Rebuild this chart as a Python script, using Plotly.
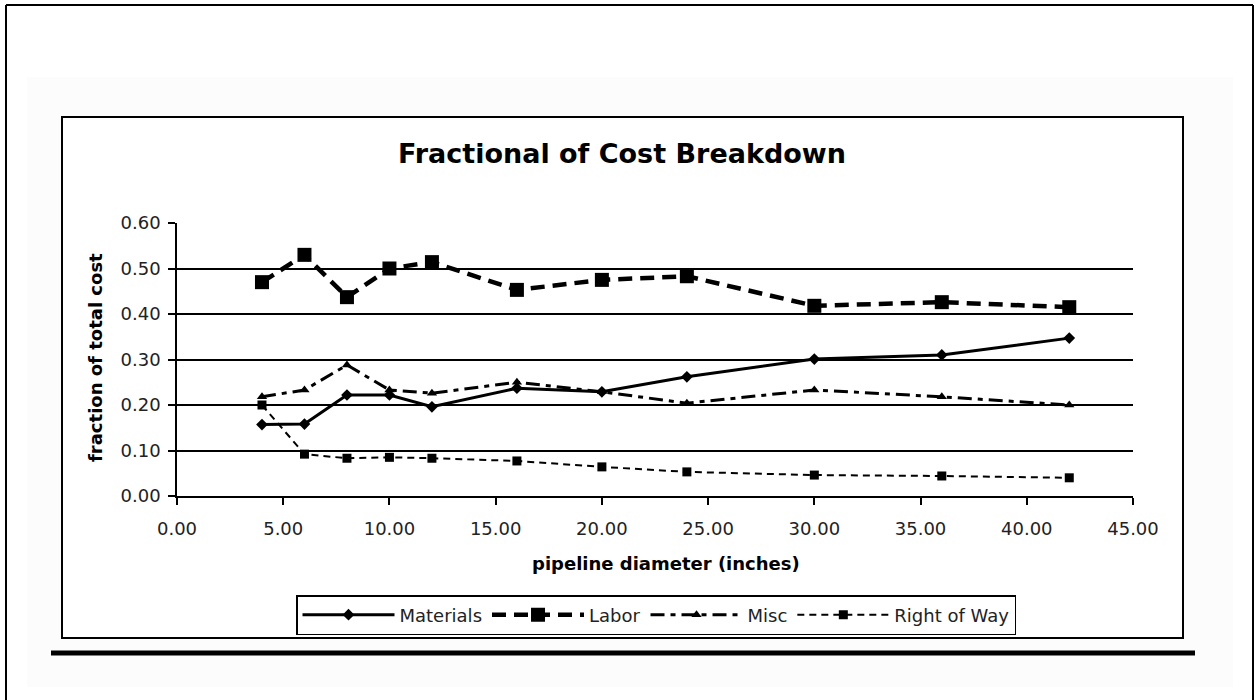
import plotly.graph_objects as go

# ---- data ----
diameters = [4, 6, 8, 10, 12, 16, 20, 24, 30, 36, 42]
materials = [0.157, 0.158, 0.222, 0.222, 0.196, 0.237, 0.229, 0.262, 0.301, 0.310, 0.347]
labor = [0.470, 0.530, 0.437, 0.500, 0.514, 0.453, 0.475, 0.483, 0.418, 0.426, 0.415]
misc = [0.218, 0.233, 0.288, 0.233, 0.226, 0.250, 0.229, 0.204, 0.233, 0.218, 0.200]
right_of_way = [0.200, 0.092, 0.083, 0.085, 0.083, 0.077, 0.064, 0.053, 0.046, 0.044, 0.040]

x_ticks = [0, 5, 10, 15, 20, 25, 30, 35, 40, 45]
y_ticks = [0.0, 0.1, 0.2, 0.3, 0.4, 0.5, 0.6]

title_text = "Fractional of Cost Breakdown"
x_title = "pipeline diameter (inches)"
y_title = "fraction of total cost"

# ---- layout geometry (pixels) ----
W, H = 1255, 700
PL, PR, PT, PB = 177, 1133, 223, 496


def fx(px):
    return (px - PL) / (PR - PL)


def fy(py):
    return (PB - py) / (PB - PT)


FONT = "DejaVu Sans"

fig = go.Figure()
fig.add_trace(go.Scatter(
    x=diameters, y=materials, name="Materials", mode="lines+markers",
    line=dict(color="black", width=3, dash="solid"),
    marker=dict(symbol="diamond", size=9, color="black")))
fig.add_trace(go.Scatter(
    x=diameters, y=labor, name="Labor", mode="lines+markers",
    line=dict(color="black", width=4.5, dash="14px,8px"),
    marker=dict(symbol="square", size=14, color="black")))
fig.add_trace(go.Scatter(
    x=diameters, y=misc, name="Misc", mode="lines+markers",
    line=dict(color="black", width=3, dash="14px,6px,5px,6px"),
    marker=dict(symbol="triangle-up", size=9, color="black")))
fig.add_trace(go.Scatter(
    x=diameters, y=right_of_way, name="Right of Way", mode="lines+markers",
    line=dict(color="black", width=2, dash="7px,5px"),
    marker=dict(symbol="square", size=9, color="black")))

shapes = [
    # faint background panel
    dict(type="rect", xref="paper", yref="paper", x0=fx(27), x1=fx(1233), y0=fy(687), y1=fy(77),
         fillcolor="#fcfcfc", line=dict(width=0), layer="below"),
    # outer frame (left, top, right)
    dict(type="line", xref="paper", yref="paper", x0=fx(6), x1=fx(6), y0=fy(5), y1=fy(702),
         line=dict(color="black", width=2)),
    dict(type="line", xref="paper", yref="paper", x0=fx(6), x1=fx(1253), y0=fy(5), y1=fy(5),
         line=dict(color="black", width=2)),
    dict(type="line", xref="paper", yref="paper", x0=fx(1253), x1=fx(1253), y0=fy(5), y1=fy(702),
         line=dict(color="black", width=2)),
    # chart frame
    dict(type="rect", xref="paper", yref="paper", x0=fx(62), x1=fx(1183), y0=fy(638), y1=fy(117),
         line=dict(color="black", width=2), fillcolor="white", layer="below"),
    # thick rule below
    dict(type="line", xref="paper", yref="paper", x0=fx(51), x1=fx(1195), y0=fy(653), y1=fy(653),
         line=dict(color="black", width=5)),
]

annotations = [
    dict(text="<b>" + title_text + "</b>", xref="paper", yref="paper", x=fx(622), y=fy(153),
         showarrow=False, xanchor="center", yanchor="middle",
         font=dict(family=FONT, size=27, color="black")),
    dict(text="<b>" + x_title + "</b>", xref="paper", yref="paper", x=fx(666), y=fy(563),
         showarrow=False, xanchor="center", yanchor="middle",
         font=dict(family=FONT, size=18, color="black")),
    dict(text="<b>" + y_title + "</b>", xref="paper", yref="paper", x=fx(95), y=fy(358),
         showarrow=False, xanchor="center", yanchor="middle", textangle=-90,
         font=dict(family=FONT, size=18, color="black")),
]

fig.update_layout(
    width=W, height=H,
    margin=dict(l=PL, r=W - PR, t=PT, b=H - PB, pad=0),
    paper_bgcolor="white", plot_bgcolor="rgba(0,0,0,0)",
    font=dict(family=FONT, size=18, color="black"),
    shapes=shapes, annotations=annotations,
    showlegend=True,
    legend=dict(
        orientation="h", x=fx(656), y=fy(615), xanchor="center", yanchor="middle",
        bordercolor="black", borderwidth=1.5, bgcolor="white",
        font=dict(family=FONT, size=18, color="#222"),
        itemwidth=92, tracegroupgap=0,
    ),
)

fig.update_xaxes(
    range=[0, 45], tickvals=x_ticks, tickformat=".2f",
    showgrid=False, zeroline=False,
    showline=True, linecolor="black", linewidth=1.5,
    ticks="outside", ticklen=7, tickwidth=1.5, tickcolor="black",
    ticklabelstandoff=9,
    tickfont=dict(family=FONT, size=18, color="#222"),
)
fig.update_yaxes(
    range=[0, 0.6], tickvals=y_ticks, tickformat=".2f",
    showgrid=True, gridcolor="black", gridwidth=1.5, zeroline=False,
    showline=True, linecolor="black", linewidth=1.5,
    ticks="outside", ticklen=7, tickwidth=1.5, tickcolor="black",
    ticklabelstandoff=4,
    tickfont=dict(family=FONT, size=18, color="#222"),
)

fig.write_html("out.html", config={"displayModeBar": False},
               post_script="document.body.style.margin='0';")
